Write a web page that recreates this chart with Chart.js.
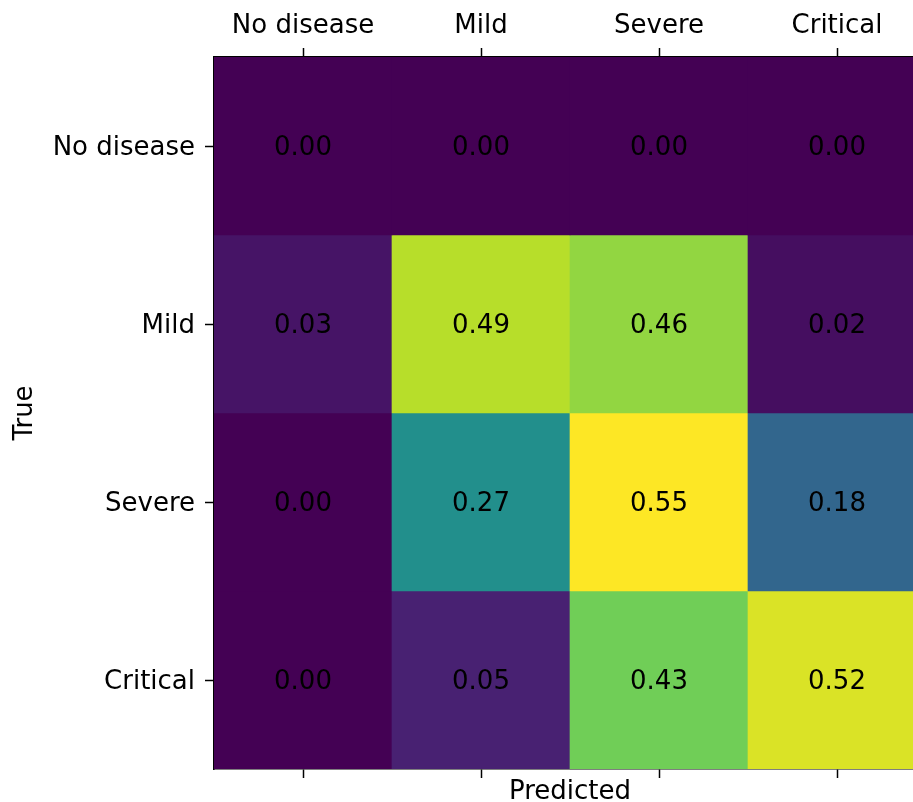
<!DOCTYPE html>
<html>
<head>
<meta charset="utf-8">
<script src="https://cdn.jsdelivr.net/npm/chart.js@4/dist/chart.umd.min.js"></script>
<style>
  html, body { margin: 0; padding: 0; overflow: hidden; background: #fff; }
  #wrap { width: 940px; height: 802px; }
</style>
</head>
<body>
<div id="wrap"><canvas id="myChart" width="940" height="802"></canvas></div>
<script>
// confusion matrix, rows = true class, columns = predicted class
const classes = ['No disease', 'Mild', 'Severe', 'Critical'];
const rowNoDisease = [0.00, 0.00, 0.00, 0.00];
const rowMild = [0.03, 0.49, 0.46, 0.02];
const rowSevere = [0.00, 0.27, 0.55, 0.18];
const rowCritical = [0.00, 0.05, 0.43, 0.52];
const matrix = [rowNoDisease, rowMild, rowSevere, rowCritical];

// viridis stops, 0 .. 1
const viridis = ['#440154', '#482475', '#414487', '#355f8d', '#2a788e', '#21918c',
  '#22a884', '#44bf70', '#7ad151', '#bddf26', '#fde725'];

function hexToRgb(h) {
  return [1, 3, 5].map(i => parseInt(h.slice(i, i + 2), 16));
}

function colormap(t) {
  t = Math.max(0, Math.min(1, t));
  const pos = t * (viridis.length - 1);
  const i = Math.min(Math.floor(pos), viridis.length - 2);
  const f = pos - i;
  const a = hexToRgb(viridis[i]);
  const b = hexToRgb(viridis[i + 1]);
  const c = a.map((v, k) => Math.round(v + (b[k] - v) * f));
  return `rgb(${c[0]}, ${c[1]}, ${c[2]})`;
}

const vmin = Math.min(...matrix.flat());
const vmax = Math.max(...matrix.flat());

Chart.defaults.font.family = 'DejaVu Sans';
Chart.defaults.font.size = 26;
Chart.defaults.color = '#000';

const datasets = matrix.map((row, r) => ({
  label: classes[r],
  data: row.map(() => [r, r + 1]),
  backgroundColor: row.map(v => colormap((v - vmin) / (vmax - vmin))),
  borderWidth: 0,
  grouped: false,
  barPercentage: 1,
  categoryPercentage: 1,
}));

const cellText = {
  id: 'cellText',
  afterDatasetsDraw(chart) {
    const { ctx, scales } = chart;
    ctx.save();
    ctx.font = '26px "DejaVu Sans"';
    ctx.fillStyle = '#000';
    ctx.textAlign = 'center';
    ctx.textBaseline = 'middle';
    matrix.forEach((row, r) => {
      row.forEach((v, c) => {
        const x = scales.x.getPixelForValue(c);
        const y = scales.y.getPixelForValue(r + 0.5);
        ctx.fillText(v.toFixed(2), x, y + 2);
      });
    });
    ctx.restore();
  }
};

const tickGrid = {
  drawOnChartArea: false,
  offset: false,
  tickLength: 9,
  tickColor: '#000',
  tickWidth: 1.5,
};

const config = {
  type: 'bar',
  data: { labels: classes, datasets },
  options: {
    responsive: false,
    animation: false,
    layout: { padding: { left: 0, right: 14, top: 0, bottom: 0 } },
    plugins: { legend: { display: false }, tooltip: { enabled: false } },
    scales: {
      x: {
        position: 'top',
        offset: true,
        grid: tickGrid,
        border: { display: true, color: '#000', width: 1.5 },
        ticks: { padding: 6, maxRotation: 0 },
        afterFit(scale) { scale.height = 57; },
      },
      x2: {
        type: 'category',
        labels: classes,
        position: 'bottom',
        offset: true,
        grid: tickGrid,
        border: { display: true, color: '#000', width: 1.5 },
        ticks: { display: false },
        title: { display: true, text: 'Predicted', padding: { top: 0, bottom: -6 } },
        afterFit(scale) { scale.height = 33; },
      },
      y: {
        type: 'linear',
        min: 0,
        max: 4,
        reverse: true,
        grid: tickGrid,
        border: { display: true, color: '#000', width: 1.5 },
        afterBuildTicks(scale) {
          scale.ticks = classes.map((c, i) => ({ value: i + 0.5 }));
        },
        ticks: {
          padding: 10,
          labelOffset: 2,
          callback: (value, index) => classes[index],
        },
        title: { display: true, text: 'True', padding: { top: 10, bottom: 0 } },
        afterFit(scale) { scale.width = 214; },
      },
    },
  },
  plugins: [cellText],
};

const myChart = new Chart(document.getElementById('myChart').getContext('2d'), config);
</script>
</body>
</html>
